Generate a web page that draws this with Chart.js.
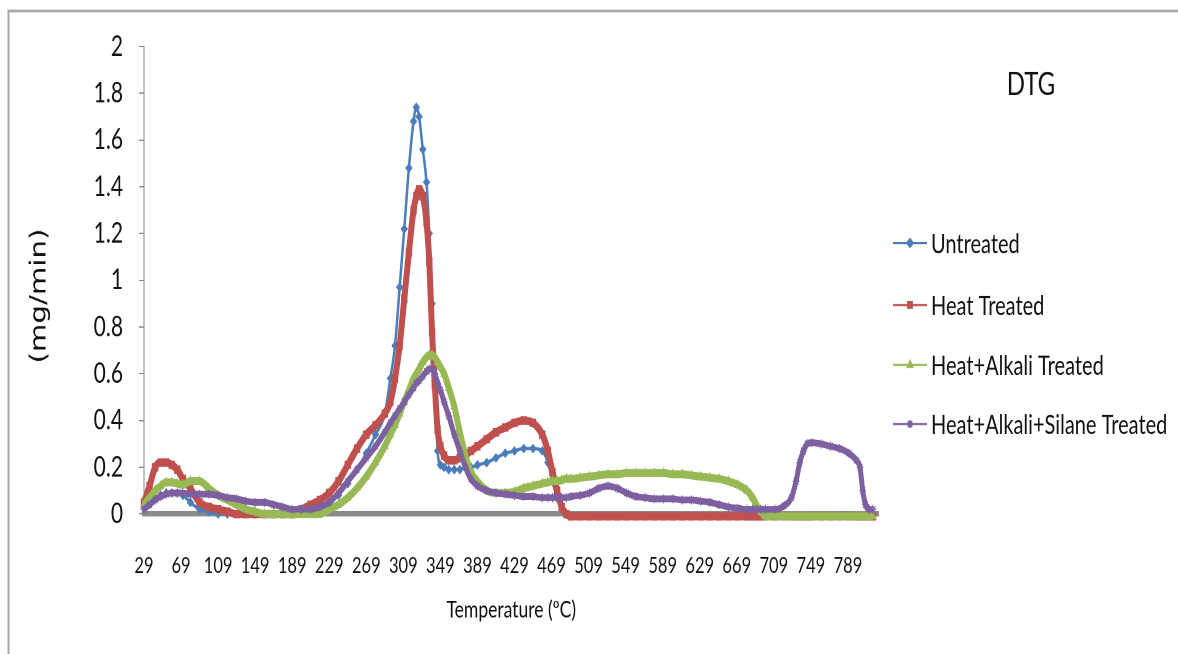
<!DOCTYPE html>
<html><head><meta charset="utf-8">
<script src="https://cdn.jsdelivr.net/npm/chart.js@4.4.0/dist/chart.umd.min.js"></script>
<style>
html,body{margin:0;padding:0;background:#fff;width:1178px;height:654px;overflow:hidden;}
#wrap{position:absolute;left:0;top:0;width:1178px;height:492px;transform:scale(1,1.3293);transform-origin:0 0;}
canvas{display:block;}
</style></head><body>
<div id="wrap"><canvas id="c" width="1178" height="492" style="width:1178px;height:492px"></canvas></div>
<script>
// ---- data ----
const temperatures = [29,35,41,47,53,59,65,71,79,89,99,109,119,129,139,149,159,169,179,189,199,209,219,229,239,249,259,269,279,289,295,300,305,310,315,320,323,326,330,334,337,340,343,346,349,353,358,364,370,376,382,389,399,409,419,429,439,449,459,465,470,475,480,485,490,500,510,520,530,540,550,560,570,580,590,600,610,620,630,640,650,660,670,680,686,690,695,700,710,720,728,733,737,741,745,750,760,770,780,790,798,802,805,808,812,816];

const untreated = [0.03,0.05,0.07,0.08,0.09,0.09,0.09,0.08,0.05,0.02,0.01,0,0,0,0,0,0,0,0,0,0.01,0.02,0.03,0.05,0.08,0.13,0.19,0.26,0.34,0.43,0.58,0.72,0.97,1.22,1.48,1.68,1.74,1.70,1.56,1.42,1.20,0.90,0.57,0.27,0.21,0.20,0.19,0.19,0.19,0.20,0.20,0.21,0.22,0.24,0.26,0.27,0.28,0.28,0.27,0.22,0.14,0.07,0.02,0,null,null,null,null,null,null,null,null,null,null,null,null,null,null,null,null,null,null,null,null,null,null,null,null,null,null,null,null,null,null,null,null,null,null,null,null,null,null,null,null,null,null];

const heatTreated = [0.05,0.12,0.20,0.22,0.22,0.21,0.19,0.15,0.11,0.05,0.03,0.02,0.01,0,0,0,0,0,0,0,0.02,0.04,0.06,0.09,0.14,0.21,0.28,0.34,0.38,0.43,0.48,0.58,0.72,0.92,1.12,1.30,1.36,1.39,1.36,1.25,1.08,0.78,0.55,0.36,0.29,0.25,0.23,0.23,0.24,0.25,0.27,0.29,0.32,0.35,0.37,0.39,0.40,0.39,0.34,0.27,0.18,0.10,0.03,0,-0.01,-0.01,-0.01,-0.01,-0.01,-0.01,-0.01,-0.01,-0.01,-0.01,-0.01,-0.01,-0.01,-0.01,-0.01,-0.01,-0.01,-0.01,-0.01,-0.01,-0.01,-0.01,-0.01,-0.01,-0.01,-0.01,-0.01,-0.01,-0.01,-0.01,-0.01,-0.01,-0.01,-0.01,-0.01,-0.01,-0.01,-0.01,-0.01,-0.01,-0.01,-0.01];

const heatAlkali = [0.04,0.07,0.10,0.12,0.135,0.135,0.13,0.125,0.14,0.14,0.11,0.08,0.06,0.04,0.02,0.01,0,0,0,0,0,0,0,0.02,0.04,0.07,0.11,0.16,0.22,0.29,0.34,0.38,0.43,0.48,0.53,0.58,0.60,0.62,0.65,0.67,0.68,0.68,0.67,0.65,0.63,0.60,0.54,0.46,0.35,0.25,0.18,0.14,0.10,0.09,0.09,0.095,0.11,0.12,0.13,0.135,0.14,0.14,0.145,0.15,0.15,0.155,0.16,0.165,0.17,0.17,0.175,0.175,0.175,0.175,0.175,0.17,0.17,0.165,0.16,0.155,0.15,0.14,0.125,0.10,0.07,0.04,0.01,-0.01,-0.01,-0.01,-0.01,-0.01,-0.01,-0.01,-0.01,-0.01,-0.01,-0.01,-0.01,-0.01,-0.01,-0.01,-0.01,-0.01,-0.01,-0.01];

const heatAlkaliSilane = [0.02,0.04,0.06,0.075,0.085,0.09,0.09,0.09,0.085,0.085,0.085,0.08,0.07,0.065,0.055,0.05,0.05,0.04,0.03,0.02,0.02,0.02,0.03,0.05,0.09,0.14,0.19,0.24,0.29,0.35,0.39,0.42,0.45,0.48,0.51,0.54,0.56,0.57,0.59,0.61,0.62,0.62,0.60,0.56,0.53,0.48,0.42,0.34,0.27,0.20,0.15,0.12,0.10,0.09,0.085,0.08,0.075,0.075,0.07,0.07,0.07,0.07,0.07,0.07,0.075,0.08,0.09,0.11,0.12,0.11,0.09,0.075,0.07,0.065,0.065,0.065,0.06,0.06,0.055,0.05,0.04,0.03,0.025,0.02,0.02,0.02,0.02,0.02,0.02,0.035,0.07,0.14,0.22,0.27,0.30,0.305,0.30,0.29,0.28,0.26,0.23,0.20,0.10,0.04,0.02,0.02];

const seriesNames = ['Untreated','Heat Treated','Heat+Alkali Treated','Heat+Alkali+Silane Treated'];
const xTickValues = [29,69,109,149,189,229,269,309,349,389,429,469,509,549,589,629,669,709,749,789];
const yTickValues = [0,0.2,0.4,0.6,0.8,1,1.2,1.4,1.6,1.8,2];

// ---- styling ----
const SY = 1.3293;
const colors = ['#4a7ebb','#c0504d','#98b954','#7d60a0'];
const styles = ['rectRot','rect','triangle','star'];
const widths = [2.5,6,6,5];
const radii = [3,3.8,3.4,3.4];
const seriesData = [untreated, heatTreated, heatAlkali, heatAlkaliSilane];
const FONT = 'Lato, "Open Sans", sans-serif';

const datasets = seriesData.map((arr, i) => ({
  label: seriesNames[i],
  data: temperatures.map((t, k) => ({x: t, y: arr[k]})),
  borderColor: colors[i],
  backgroundColor: colors[i],
  pointBackgroundColor: colors[i],
  pointBorderColor: colors[i],
  pointStyle: styles[i],
  pointRadius: radii[i],
  pointBorderWidth: 1,
  borderWidth: widths[i],
  cubicInterpolationMode: 'monotone',
  spanGaps: false,
  clip: false,
  order: 3 - i
}));

const decor = {
  id: 'decor',
  afterDraw(chart) {
    const ctx = chart.ctx;
    ctx.save();
    // outer frame (top & left)
    ctx.strokeStyle = '#a8a8a8';
    ctx.lineWidth = 2;
    ctx.beginPath();
    ctx.moveTo(8.5, 500); ctx.lineTo(8.5, 8.3); ctx.lineTo(1178, 8.3);
    ctx.stroke();
    // title
    ctx.fillStyle = '#111';
    ctx.font = '24px ' + FONT;
    ctx.textAlign = 'center';
    ctx.textBaseline = 'middle';
    ctx.fillText('DTG', 1031, 85 / SY);
    // y title
    ctx.save();
    ctx.translate(40, 296 / SY);
    ctx.rotate(-Math.PI / 2);
    ctx.font = '22px "DejaVu Sans", sans-serif';
    ctx.fillText('(mg/min)', 0, 0);
    ctx.restore();
    // legend
    const ly = [243, 305, 365, 424];
    ctx.font = '20px ' + FONT;
    ctx.textAlign = 'left';
    for (let i = 0; i < 4; i++) {
      const y = ly[i] / SY;
      ctx.strokeStyle = colors[i];
      ctx.lineWidth = 1.6;
      ctx.beginPath(); ctx.moveTo(893, y); ctx.lineTo(927, y); ctx.stroke();
      ctx.fillStyle = colors[i];
      Chart.helpers.drawPoint(ctx, {pointStyle: styles[i], radius: 3, borderWidth: 1, rotation: 0}, 910, y);
      ctx.fillStyle = '#111';
      ctx.fillText(seriesNames[i], 931, y + 1);
    }
    ctx.restore();
  }
};

new Chart(document.getElementById('c'), {
  type: 'line',
  data: { datasets },
  plugins: [decor],
  options: {
    responsive: false,
    animation: false,
    devicePixelRatio: 2,
    layout: { padding: { top: 35, right: 299.5, bottom: 0, left: 0 } },
    plugins: { legend: { display: false }, tooltip: { enabled: false }, title: { display: false } },
    scales: {
      x: {
        type: 'linear',
        min: 29, max: 822,
        afterBuildTicks: s => { s.ticks = xTickValues.map(v => ({ value: v })); },
        afterFit: s => { s.height = 492 - 514 / SY; },
        grid: { display: false, drawTicks: false },
        border: { display: true, color: '#8a8a8a', width: 4 },
        ticks: { autoSkip: false, maxRotation: 0, padding: 29, color: '#111',
                 font: { family: FONT, size: 16.5 },
                 callback: v => String(v) },
        title: { display: true, text: 'Temperature (ºC)', color: '#111',
                 font: { family: FONT, size: 17.5 }, padding: { top: 0, bottom: 22.5 } }
      },
      y: {
        min: 0, max: 2,
        afterBuildTicks: s => { s.ticks = yTickValues.map(v => ({ value: v })); },
        afterFit: s => { s.width = 144; },
        grid: { drawOnChartArea: false, drawTicks: true, tickLength: 5, color: '#888' },
        border: { display: true, color: '#888', width: 1 },
        ticks: { padding: 16, color: '#111', font: { family: FONT, size: 21 },
                 callback: v => String(v) }
      }
    }
  }
});
</script>
</body></html>
